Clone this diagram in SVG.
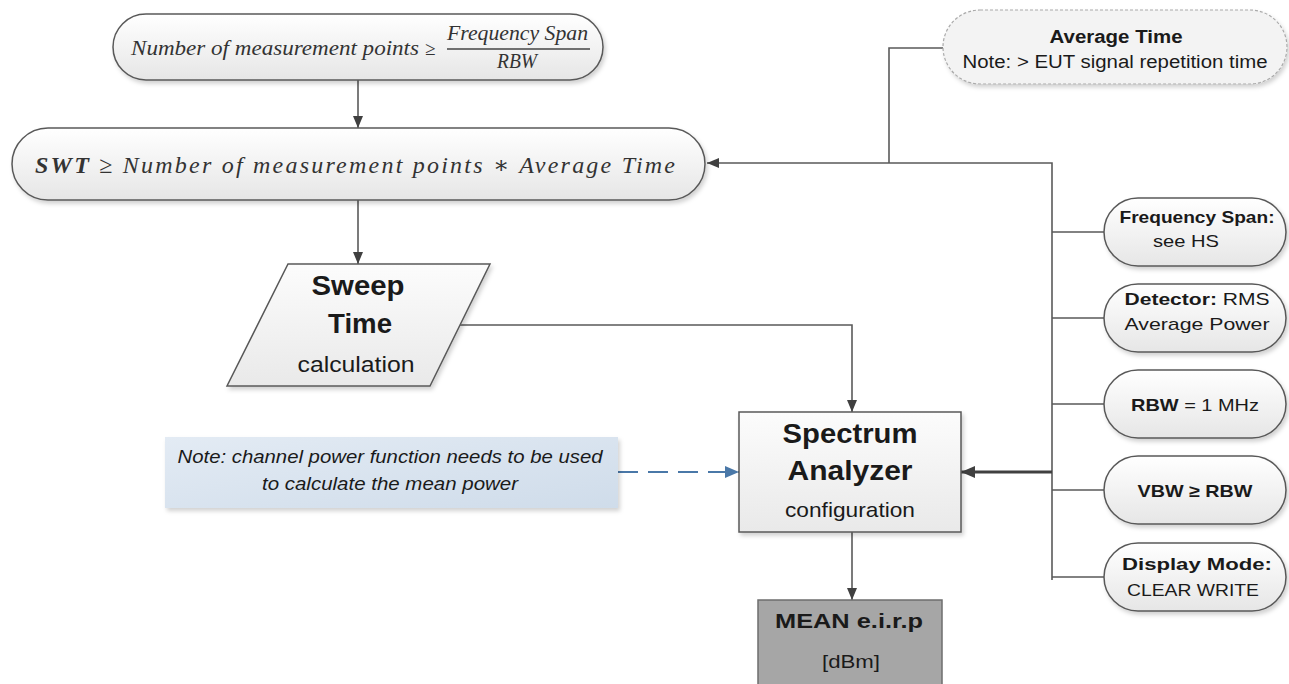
<svg xmlns="http://www.w3.org/2000/svg" width="1289" height="684" viewBox="0 0 1289 684">
<defs>
<linearGradient id="gPill" x1="0" y1="0" x2="0" y2="1"><stop offset="0" stop-color="#ffffff"/><stop offset="1" stop-color="#e6e6e6"/></linearGradient>
<linearGradient id="gBox" x1="0" y1="0" x2="0" y2="1"><stop offset="0" stop-color="#fcfcfc"/><stop offset="1" stop-color="#e9e9e9"/></linearGradient>
<linearGradient id="gNote" x1="0" y1="0" x2="1" y2="1"><stop offset="0" stop-color="#e3ebf4"/><stop offset="1" stop-color="#cfdcea"/></linearGradient>
<filter id="sh" x="-5%" y="-10%" width="115%" height="130%"><feDropShadow dx="2" dy="3" stdDeviation="2" flood-color="#000" flood-opacity="0.18"/></filter>
<marker id="ah" viewBox="0 0 12 10" refX="12" refY="5" markerWidth="12" markerHeight="10" markerUnits="userSpaceOnUse" orient="auto"><path d="M0,0 L12,5 L0,10 z" fill="#404040"/></marker>
<marker id="ahBig" viewBox="0 0 14 12" refX="14" refY="6" markerWidth="14" markerHeight="12" markerUnits="userSpaceOnUse" orient="auto"><path d="M0,0 L14,6 L0,12 z" fill="#404040"/></marker>
<marker id="ahBlue" viewBox="0 0 14 12" refX="14" refY="6" markerWidth="14" markerHeight="12" markerUnits="userSpaceOnUse" orient="auto"><path d="M0,0 L14,6 L0,12 z" fill="#4a78a8"/></marker>
</defs>
<style>
.pill{fill:url(#gPill);stroke:#595959;stroke-width:1.5}
.box{fill:url(#gBox);stroke:#595959;stroke-width:1.5}
.con{fill:none;stroke:#5a5a5a;stroke-width:1.6}
.sans{font-family:"Liberation Sans",Arial,sans-serif;fill:#1a1a1a}
.b{font-weight:bold}
.math{font-family:"Liberation Serif","DejaVu Serif",serif;font-style:italic;fill:#333}
</style>

<g id="connectors">
<path class="con" d="M358 80 V128" marker-end="url(#ah)"/>
<path class="con" d="M358 200 V264" marker-end="url(#ah)"/>
<path class="con" d="M460 325 H852 V412" marker-end="url(#ah)"/>
<path class="con" d="M943 48 H889 V163"/>
<path class="con" d="M1052 580 V163 H707" marker-end="url(#ah)"/>
<path class="con" d="M1104 232 H1052 M1104 318 H1052 M1104 404 H1052 M1104 490 H1052 M1104 577 H1052"/>
<path fill="none" stroke="#404040" stroke-width="3" d="M1052 472 H961" marker-end="url(#ahBig)"/>
<path fill="none" stroke="#4a78a8" stroke-width="2" stroke-dasharray="20 10" d="M618 472 H739" marker-end="url(#ahBlue)"/>
<path class="con" d="M852 532 V600" marker-end="url(#ah)"/>
</g>

<g id="n-points">
<rect class="pill" x="113" y="14" width="490" height="66" rx="33" filter="url(#sh)"/>
<text class="math" x="131" y="55" font-size="20" textLength="288" lengthAdjust="spacingAndGlyphs">Number of measurement points</text>
<text class="math" x="425" y="55" font-size="19" font-style="normal">≥</text>
<text class="math" x="447" y="40" font-size="20" textLength="141" lengthAdjust="spacingAndGlyphs">Frequency Span</text>
<line x1="447" y1="49" x2="590" y2="49" stroke="#444" stroke-width="1.3"/>
<text class="math" x="497" y="68" font-size="20" textLength="40" lengthAdjust="spacingAndGlyphs">RBW</text>
</g>

<g id="n-swt">
<rect class="pill" x="12" y="128" width="693" height="72" rx="36" filter="url(#sh)"/>
<text class="math" x="35" y="173" font-size="24" textLength="640" lengthAdjust="spacing"><tspan font-weight="bold">SWT</tspan> <tspan font-style="normal">≥</tspan> Number of measurement points ∗ Average Time</text>
</g>

<g id="n-avgtime">
<rect x="943" y="10" width="344" height="74" rx="37" fill="#f3f3f3" stroke="#aaaaaa" stroke-width="1.2" stroke-dasharray="3 2" filter="url(#sh)"/>
<text class="sans b" x="1116" y="43" font-size="18" text-anchor="middle" textLength="133" lengthAdjust="spacingAndGlyphs">Average Time</text>
<text class="sans" x="1115" y="68" font-size="18" text-anchor="middle" fill="#333" textLength="305" lengthAdjust="spacingAndGlyphs">Note: &gt; EUT signal repetition time</text>
</g>

<g id="n-sweep">
<polygon points="288,264 490,264 430,386 227,386" fill="url(#gBox)" stroke="#595959" stroke-width="1.5" filter="url(#sh)"/>
<text class="sans b" x="358" y="295" font-size="27" text-anchor="middle" textLength="93" lengthAdjust="spacingAndGlyphs">Sweep</text>
<text class="sans b" x="360" y="333" font-size="27" text-anchor="middle" textLength="64" lengthAdjust="spacingAndGlyphs">Time</text>
<text class="sans" x="356" y="372" font-size="22" text-anchor="middle" fill="#222" textLength="117" lengthAdjust="spacingAndGlyphs">calculation</text>
</g>

<g id="n-note">
<rect x="165" y="437" width="453" height="71" fill="url(#gNote)" filter="url(#sh)"/>
<text class="sans" x="390" y="463" font-size="18" font-style="italic" fill="#333" text-anchor="middle" textLength="425" lengthAdjust="spacingAndGlyphs">Note: channel power function needs to be used</text>
<text class="sans" x="390" y="490" font-size="18" font-style="italic" fill="#333" text-anchor="middle" textLength="256" lengthAdjust="spacingAndGlyphs">to calculate the mean power</text>
</g>

<g id="n-spectrum">
<rect class="box" x="739" y="412" width="222" height="120" filter="url(#sh)"/>
<text class="sans b" x="850" y="443" font-size="28" text-anchor="middle" textLength="135" lengthAdjust="spacingAndGlyphs">Spectrum</text>
<text class="sans b" x="850" y="480" font-size="28" text-anchor="middle" textLength="125" lengthAdjust="spacingAndGlyphs">Analyzer</text>
<text class="sans" x="850" y="517" font-size="21" text-anchor="middle" fill="#222" textLength="130" lengthAdjust="spacingAndGlyphs">configuration</text>
</g>

<g id="n-mean">
<rect x="758" y="600" width="184" height="95" fill="#a6a6a6" stroke="#6e6e6e" stroke-width="1.5"/>
<text class="sans b" x="849" y="628" font-size="21" text-anchor="middle" textLength="148" lengthAdjust="spacingAndGlyphs">MEAN e.i.r.p</text>
<text class="sans" x="851" y="668" font-size="19" text-anchor="middle" fill="#222" textLength="58" lengthAdjust="spacingAndGlyphs">[dBm]</text>
</g>

<g id="n-freqspan">
<rect class="pill" x="1104" y="198" width="182" height="68" rx="34" filter="url(#sh)"/>
<text class="sans b" x="1197" y="223" font-size="17" text-anchor="middle" textLength="155" lengthAdjust="spacingAndGlyphs">Frequency Span:</text>
<text class="sans" x="1186" y="247" font-size="17" text-anchor="middle" textLength="66" lengthAdjust="spacingAndGlyphs">see HS</text>
</g>

<g id="n-detector">
<rect class="pill" x="1104" y="284" width="182" height="68" rx="34" filter="url(#sh)"/>
<text class="sans" x="1197" y="305" font-size="17" text-anchor="middle" textLength="145" lengthAdjust="spacingAndGlyphs"><tspan font-weight="bold">Detector:</tspan> RMS</text>
<text class="sans" x="1197" y="330" font-size="17" text-anchor="middle" textLength="145" lengthAdjust="spacingAndGlyphs">Average Power</text>
</g>

<g id="n-rbw">
<rect class="pill" x="1104" y="370" width="182" height="68" rx="34" filter="url(#sh)"/>
<text class="sans" x="1195" y="411" font-size="17" text-anchor="middle" textLength="128" lengthAdjust="spacingAndGlyphs"><tspan font-weight="bold">RBW</tspan> = 1 MHz</text>
</g>

<g id="n-vbw">
<rect class="pill" x="1104" y="456" width="182" height="68" rx="34" filter="url(#sh)"/>
<text class="sans b" x="1195" y="497" font-size="17" text-anchor="middle" textLength="115" lengthAdjust="spacingAndGlyphs">VBW ≥ RBW</text>
</g>

<g id="n-display">
<rect class="pill" x="1104" y="543" width="182" height="68" rx="34" filter="url(#sh)"/>
<text class="sans b" x="1197" y="570" font-size="17" text-anchor="middle" textLength="150" lengthAdjust="spacingAndGlyphs">Display Mode:</text>
<text class="sans" x="1193" y="596" font-size="17" text-anchor="middle" textLength="132" lengthAdjust="spacingAndGlyphs">CLEAR WRITE</text>
</g>
</svg>
